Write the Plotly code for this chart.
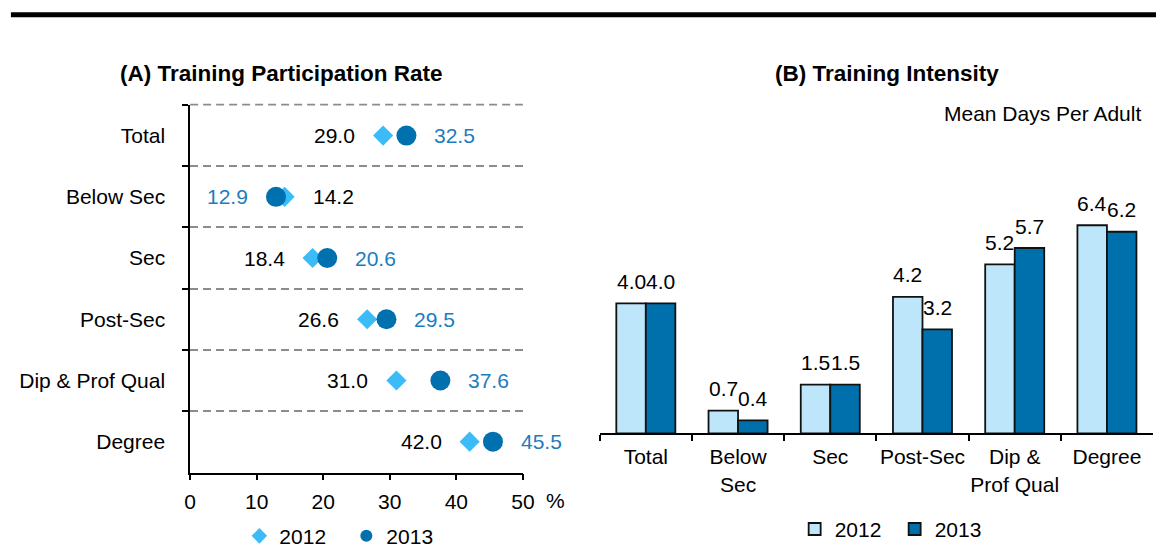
import plotly.graph_objects as go

# ---------------- data ----------------
categories = ["Total", "Below Sec", "Sec", "Post-Sec", "Dip & Prof Qual", "Degree"]
rate_2012 = [29.0, 14.2, 18.4, 26.6, 31.0, 42.0]
rate_2013 = [32.5, 12.9, 20.6, 29.5, 37.6, 45.5]

bar_categories = ["Total", "Below<br>Sec", "Sec", "Post-Sec", "Dip &<br>Prof Qual", "Degree"]
days_2012 = [4.0, 0.7, 1.5, 4.2, 5.2, 6.4]
days_2013 = [4.0, 0.4, 1.5, 3.2, 5.7, 6.2]

series_names = ["2012", "2013"]
rate_ticks = [0, 10, 20, 30, 40, 50]

# ---------------- style ----------------
FONT = "Liberation Sans, Arial, sans-serif"
C_DIAMOND = "#3BBBF8"
C_CIRCLE = "#0070AE"
C_BLUE_TXT = "#1A7DC0"
C_BAR12 = "#BDE6FA"
C_BAR13 = "#0070AD"
W, H = 1168, 557
BARGAP = 0.36

fig = go.Figure()

# Panel A: dot plot
fig.add_trace(go.Scatter(
    x=rate_2012, y=categories, mode="markers", name=series_names[0],
    marker=dict(symbol="diamond", size=15.5, color=C_DIAMOND),
    xaxis="x", yaxis="y", legend="legend", cliponaxis=False,
))
fig.add_trace(go.Scatter(
    x=rate_2013, y=categories, mode="markers", name=series_names[1],
    marker=dict(symbol="circle", size=20, color=C_CIRCLE),
    xaxis="x", yaxis="y", legend="legend", cliponaxis=False,
))

# Panel B: bars
for vals, name, col in ((days_2012, series_names[0], C_BAR12), (days_2013, series_names[1], C_BAR13)):
    fig.add_trace(go.Bar(
        x=bar_categories, y=vals, name=name,
        marker=dict(color=col, line=dict(color="#111111", width=1.8)),
        cliponaxis=False, xaxis="x2", yaxis="y2", legend="legend2",
    ))

annotations = []
# value labels for panel A: lower value on the left, higher on the right
for cat, v12, v13 in zip(categories, rate_2012, rate_2013):
    for v, other, col in ((v12, v13, "black"), (v13, v12, C_BLUE_TXT)):
        left = v < other
        annotations.append(dict(
            x=v, y=cat, xref="x", yref="y", text=f"{v:.1f}", showarrow=False,
            xanchor="right" if left else "left", xshift=-26 if left else 26,
            font=dict(size=21, color=col, family=FONT),
        ))

# value labels for panel B (above each bar of the group)
half = (1 - BARGAP) / 4
for i in range(len(bar_categories)):
    for v, off in ((days_2012[i], -half), (days_2013[i], half)):
        annotations.append(dict(
            x=i + off, y=v, xref="x2", yref="y2", text=f"{v:.1f}", showarrow=False,
            xanchor="center", yanchor="middle", yshift=22,
            font=dict(size=21, color="black", family=FONT),
        ))

annotations += [
    dict(x=280 / W, y=1 - 75 / H, xref="paper", yref="paper",
         text="<b>(A) Training Participation Rate</b>", showarrow=False,
         xanchor="center", yanchor="middle", font=dict(size=22.5, color="black", family=FONT)),
    dict(x=895 / W, y=1 - 75 / H, xref="paper", yref="paper",
         text="<b>(B) Training Intensity</b>", showarrow=False,
         xanchor="center", yanchor="middle", font=dict(size=22.5, color="black", family=FONT)),
    dict(x=1155 / W, y=1 - 116 / H, xref="paper", yref="paper",
         text="Mean Days Per Adult", showarrow=False,
         xanchor="right", yanchor="middle", font=dict(size=21, color="black", family=FONT)),
    dict(x=558 / W, y=1 - 512 / H, xref="paper", yref="paper",
         text="%", showarrow=False,
         xanchor="center", yanchor="middle", font=dict(size=21, color="black", family=FONT)),
]

shapes = [
    # heavy rule under the (clipped) page heading
    dict(type="line", xref="paper", yref="paper", x0=5 / W, x1=1, y0=1 - 15 / H, y1=1 - 15 / H,
         line=dict(color="black", width=5)),
    # top dashed boundary of panel A
    dict(type="line", xref="x domain", yref="y domain", x0=0, x1=1, y0=1, y1=1,
         line=dict(color="#8C8C8C", width=1.8, dash="8px,5px")),
]

fig.update_layout(
    width=W, height=H,
    margin=dict(l=0, r=0, t=0, b=0),
    paper_bgcolor="white", plot_bgcolor="rgba(0,0,0,0)",
    font=dict(family=FONT, size=21, color="black"),
    barmode="group", bargap=BARGAP, bargroupgap=0,
    xaxis=dict(
        domain=[187 / W, 525 / W], range=[rate_ticks[0], rate_ticks[-1]], tickvals=rate_ticks,
        showline=True, linecolor="black", linewidth=1.5, ticks="outside", ticklen=6,
        tickcolor="black", tickwidth=1.5, showgrid=False, zeroline=False,
        tickfont=dict(size=21, family=FONT), anchor="y", ticklabelstandoff=3,
    ),
    yaxis=dict(
        domain=[(H - 483) / H, (H - 107) / H], type="category",
        categoryorder="array", categoryarray=categories, autorange="reversed",
        tickson="boundaries", ticks="outside", ticklen=6, tickcolor="black", tickwidth=1.5,
        showline=True, linecolor="black", linewidth=1.5,
        showgrid=True, gridcolor="#8C8C8C", gridwidth=1.8, griddash="8px,5px",
        tickfont=dict(size=21, family=FONT), anchor="x", ticklabelstandoff=19,
    ),
    xaxis2=dict(
        domain=[603 / W, 1165 / W], type="category", anchor="y2",
        tickson="boundaries", ticks="outside", ticklen=6, tickcolor="black", tickwidth=1.5,
        showline=True, linecolor="black", linewidth=1.5, showgrid=False, tickangle=0,
        tickfont=dict(size=21, family=FONT), ticklabelstandoff=4,
    ),
    yaxis2=dict(
        domain=[(H - 443) / H, (H - 443 + 33.25 * 7) / H], range=[0, 7], anchor="x2",
        visible=False, showgrid=False, zeroline=False,
    ),
    legend=dict(
        orientation="h", x=237 / W, y=1 - 548 / H, xanchor="left", yanchor="middle",
        font=dict(size=21, family=FONT), bgcolor="rgba(0,0,0,0)", borderwidth=0,
        itemsizing="constant", itemwidth=30, entrywidth=62, itemclick=False,
    ),
    legend2=dict(
        orientation="h", x=801 / W, y=1 - 541 / H, xanchor="left", yanchor="middle",
        font=dict(size=21, family=FONT), bgcolor="rgba(0,0,0,0)", borderwidth=0,
        itemwidth=30, entrywidth=55, itemclick=False,
    ),
    annotations=annotations,
    shapes=shapes,
)

fig.write_html("out.html", config={"displayModeBar": False},
               post_script="document.body.style.margin='0px';")
